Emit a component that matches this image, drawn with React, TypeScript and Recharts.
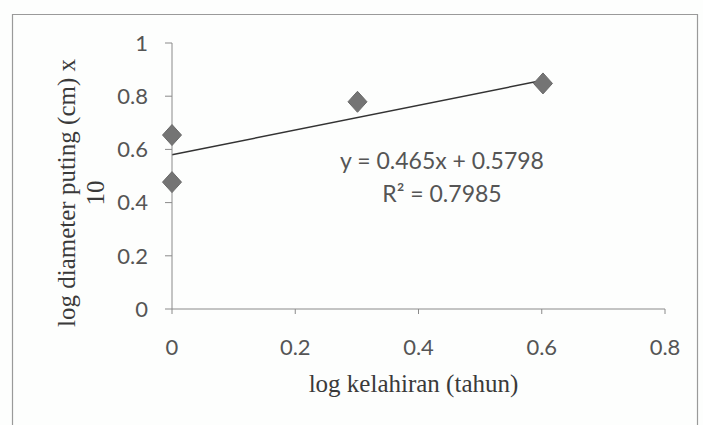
import React from 'react';
import { ScatterChart, Scatter, XAxis, YAxis, ReferenceLine } from 'recharts';

const xValues = [0, 0, 0.301, 0.602];
const yValues = [0.654, 0.477, 0.779, 0.848];
const xTicks = [0, 0.2, 0.4, 0.6, 0.8];
const yTicks = [0, 0.2, 0.4, 0.6, 0.8, 1];
const trendStart = { x: 0, y: 0.5798 };
const trendEnd = { x: 0.602, y: 0.8597 };
const equationText = 'y = 0.465x + 0.5798';
const r2Text = 'R² = 0.7985';
const xTitle = 'log kelahiran (tahun)';
const yTitleLine1 = 'log diameter puting (cm) x';
const yTitleLine2 = '10';

const data = xValues.map((x, i) => ({ x, y: yValues[i] }));

const TICK_FONT = 'Lato, "Open Sans", sans-serif';
const SERIF = '"Liberation Serif", "DejaVu Serif", serif';

const Diamond = (props: any) => {
  const { cx, cy } = props;
  if (cx == null || cy == null) return null;
  const w = 9.5, h = 10.5;
  return (
    <polygon
      points={`${cx},${cy - h} ${cx + w},${cy} ${cx},${cy + h} ${cx - w},${cy}`}
      fill="#747474"
      stroke="#6a6a6a"
      strokeWidth={1}
    />
  );
};

const XTitle = (props: any) => {
  const vb = props.viewBox || {};
  return (
    <text x={vb.x + vb.width / 2 - 5} y={392} textAnchor="middle" fontFamily={SERIF} fontSize={25} fill="#3a3a3a">
      {xTitle}
    </text>
  );
};

const YTitle = () => (
  <g>
    <text x={66} y={193} transform="rotate(-90 66 193)" textAnchor="middle" dominantBaseline="central" fontFamily={SERIF} fontSize={25} fill="#3a3a3a">
      {yTitleLine1}
    </text>
    <text x={95} y={193} transform="rotate(-90 95 193)" textAnchor="middle" dominantBaseline="central" fontFamily={SERIF} fontSize={25} fill="#3a3a3a">
      {yTitleLine2}
    </text>
  </g>
);

export default function App() {
  return (
    <div style={{ position: 'absolute', left: 0, top: 0, width: 703, height: 425, background: '#fdfefd' }}>
      <svg width={703} height={425} style={{ position: 'absolute', left: 0, top: 0 }}>
        <path d="M12.5 440 L12.5 14.5 L697.5 14.5 L697.5 440" fill="none" stroke="#9a9a9a" strokeWidth={1.2} />
        <text x={442} y={169} textAnchor="middle" fontFamily={TICK_FONT} fontSize={23} fill="#555">{equationText}</text>
        <text x={442} y={202} textAnchor="middle" fontFamily={TICK_FONT} fontSize={23} fill="#555">{r2Text}</text>
      </svg>
      <div style={{ position: 'absolute', left: 0, top: 0 }}>
        <ScatterChart width={703} height={425} margin={{ top: 43, right: 38, left: 0, bottom: 56 }}>
          <XAxis
            type="number"
            dataKey="x"
            domain={[0, 0.8]}
            ticks={xTicks}
            height={60}
            axisLine={{ stroke: '#8a8a8a', strokeWidth: 1 }}
            tickLine={{ stroke: '#8a8a8a' }}
            tickSize={5}
            tickMargin={25}
            tick={{ fontFamily: TICK_FONT, fontSize: 22, fill: '#555' }}
            label={<XTitle />}
          />
          <YAxis
            type="number"
            dataKey="y"
            domain={[0, 1]}
            ticks={yTicks}
            width={172}
            axisLine={{ stroke: '#8a8a8a', strokeWidth: 1 }}
            tickLine={{ stroke: '#8a8a8a' }}
            tickSize={7}
            tickMargin={17}
            tick={{ fontFamily: TICK_FONT, fontSize: 22, fill: '#555' }}
            label={<YTitle />}
          />
          <ReferenceLine
            segment={[trendStart, trendEnd]}
            stroke="#333"
            strokeWidth={1.5}
            ifOverflow="visible"
          />
          <Scatter data={data} shape={<Diamond />} isAnimationActive={false} />
        </ScatterChart>
      </div>
    </div>
  );
}
